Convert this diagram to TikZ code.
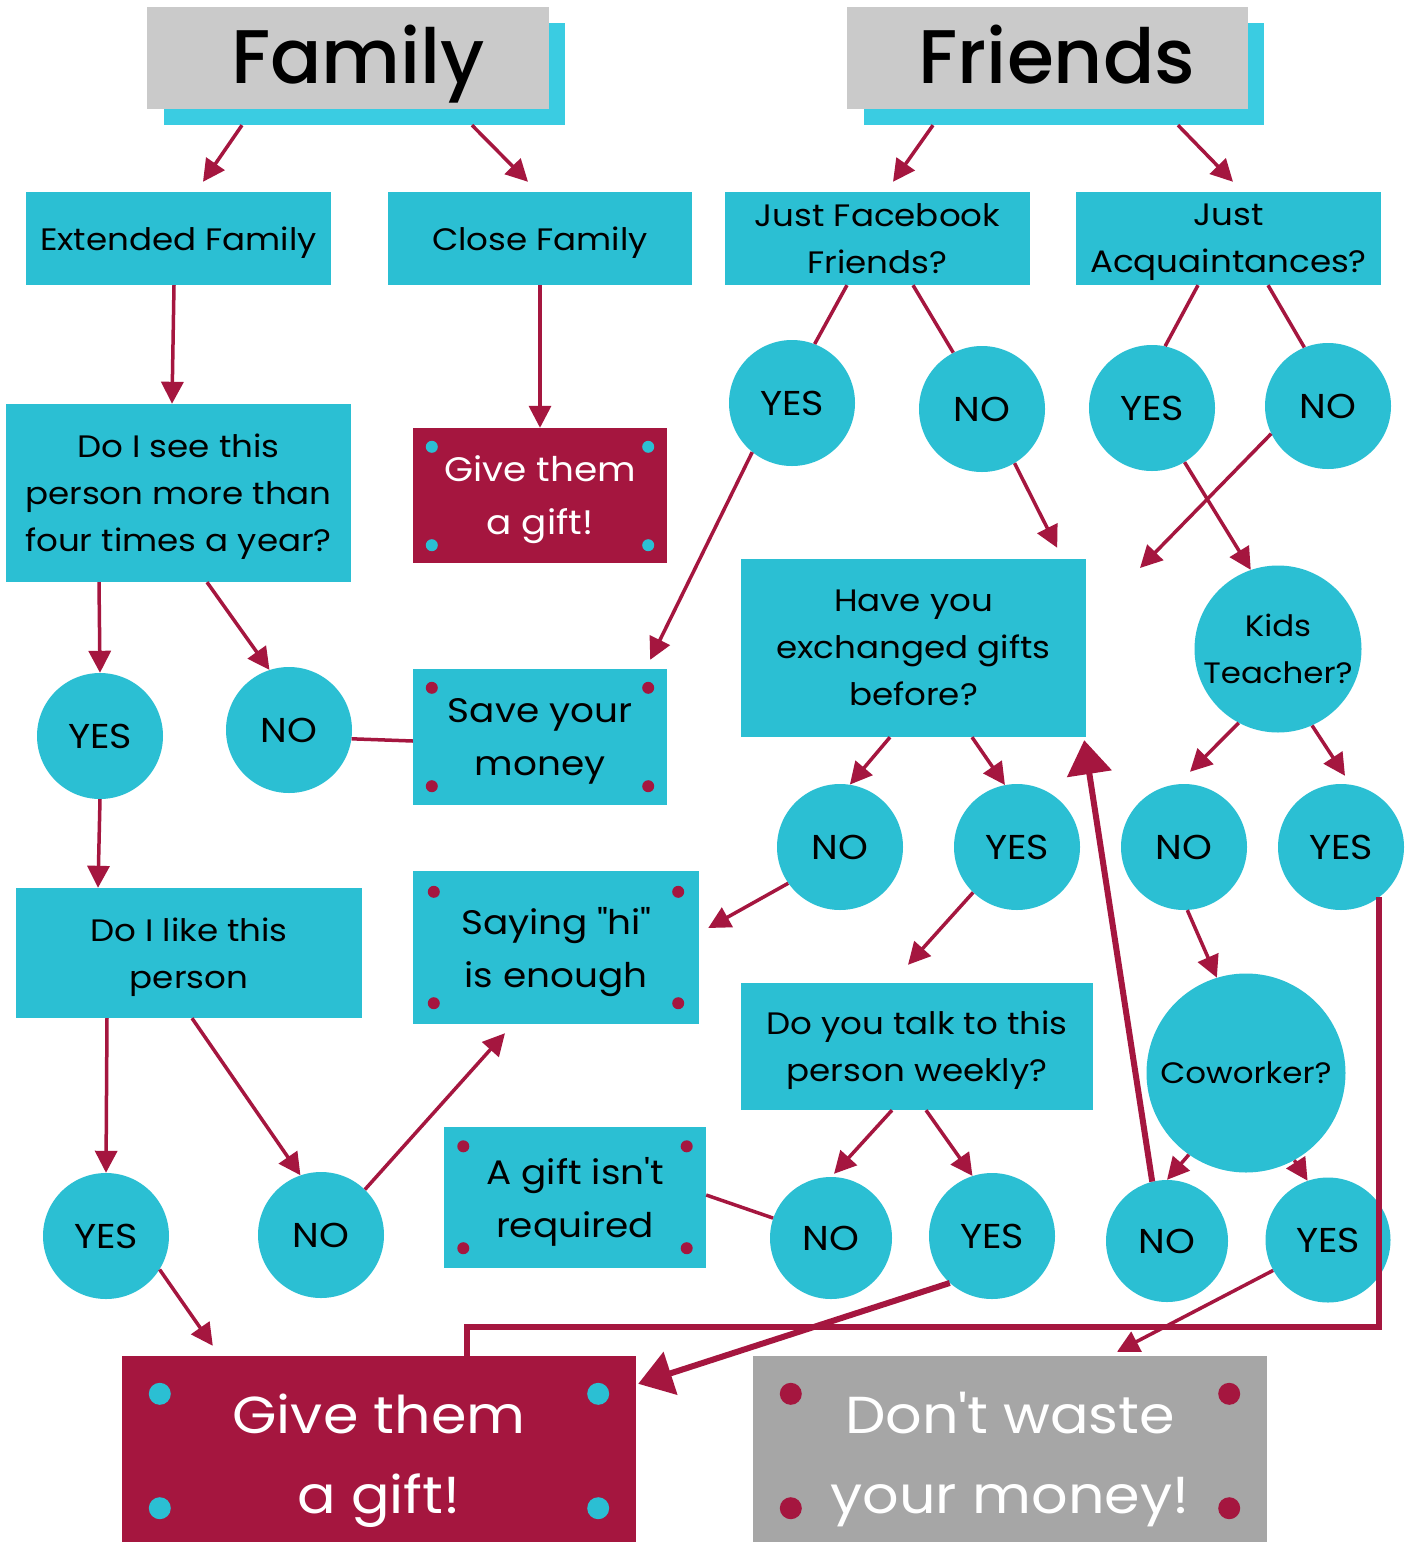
\documentclass[tikz,border=0pt]{standalone}
\usepackage{fontspec}
\setmainfont{Poppins}[FakeStretch=1.1]
\newfontfamily\hdrfont{Poppins Medium}
\usetikzlibrary{arrows.meta,shapes.geometric,calc}
\definecolor{cy}{HTML}{2BBFD3}
\definecolor{cyl}{HTML}{3ACCE2}
\definecolor{rd}{HTML}{A5163F}
\definecolor{gh}{HTML}{CACACA}
\definecolor{gd}{HTML}{A6A6A6}
\newcommand\ftA{\fontsize{31}{47}\selectfont}
\newcommand\ftK{\fontsize{29.5}{47}\selectfont}
\newcommand\ftB{\fontsize{34}{53}\selectfont}
\newcommand\ftY{\fontsize{34.5}{47}\selectfont}
\newcommand\ftC{\fontsize{52}{80}\selectfont}
\newcommand\ftH{\hdrfont\fontsize{76}{80}\selectfont}
\newcommand\bigstrut{\rule{0pt}{49pt}}
\newcommand\fourdots[5]{%
 \fill[#5] ([xshift=#2,yshift=-#2]#1.north west) circle (#4);
 \fill[#5] ([xshift=-#2,yshift=-#2]#1.north east) circle (#4);
 \fill[#5] ([xshift=#2,yshift=#3]#1.south west) circle (#4);
 \fill[#5] ([xshift=-#2,yshift=#3]#1.south east) circle (#4);}
\begin{document}
\begin{tikzpicture}[x=1pt,y=-1pt,
 bx/.style={rectangle, fill=cy, inner sep=0pt, align=center, font=\ftA, text depth=0pt},
 bxb/.style={rectangle, fill=cy, inner sep=0pt, align=center, font=\ftB, text depth=0pt},
 big/.style={rectangle, inner sep=0pt, align=center, font=\ftC, text=white, text depth=0pt, minimum width=514pt, minimum height=186pt},
 circ/.style={circle, fill=cy, minimum size=126pt, inner sep=0pt, align=center, font=\ftY},
 arr/.style={draw=rd, line width=3.5pt, -{Triangle[length=22pt,width=22pt]}},
 ln/.style={draw=rd, line width=3.5pt},
 bigarr/.style={draw=rd, line width=6pt, -{Triangle[length=34pt,width=44pt]}},
 thk/.style={draw=rd, line width=6pt}]
\useasboundingbox (0,0) rectangle (1413,1542);
\fill[white] (0,0) rectangle (1413,1542);
% headers
\node[fill=cyl, minimum width=401pt, minimum height=102pt, inner sep=0] (famsh) at (364.5,74) {};
\node[fill=gh, minimum width=402pt, minimum height=102pt, inner sep=0] (fam) at (348,58) {};
\node[font=\ftH, inner sep=0, anchor=base] (famt) at (358,83) {Family};
\node[fill=cyl, minimum width=400pt, minimum height=102pt, inner sep=0] (frish) at (1064,74) {};
\node[fill=gh, minimum width=401pt, minimum height=102pt, inner sep=0] (fri) at (1047.5,58) {};
\node[font=\ftH, inner sep=0, anchor=base] (frit) at (1057,83) {Friends};
% boxes
\node[bx, minimum width=305pt, minimum height=93pt] (ext) at (178.5,238.5) {Extended Family};
\node[bx, minimum width=304pt, minimum height=93pt] (close) at (540,238.5) {Close Family};
\node[bx, minimum width=305pt, minimum height=93pt] (jff) at (877.5,238.5) {Just Facebook\\ Friends?};
\node[bx, minimum width=305pt, minimum height=93pt] (ja) at (1228.5,238.5) {Just\\ Acquaintances?};
\node[bx, minimum width=345pt, minimum height=178pt] (q1) at (178.5,493) {Do I see this\\ person more than\\ four times a year?};
\node[bxb, fill=rd, text=white, minimum width=254pt, minimum height=135pt] (gift1) at (540,495.5) {Give them\\ a gift!};
\node[bxb, minimum width=254pt, minimum height=136pt] (save) at (540,737) {Save your\\ money};
\node[bx, minimum width=346pt, minimum height=130pt] (q2) at (189,953) {Do I like this\\ person};
\node[bxb, minimum width=286pt, minimum height=153pt] (hi) at (556,947.5) {Saying \textquotedbl hi\textquotedbl\\ is enough};
\node[bxb, minimum width=262pt, minimum height=141pt] (gift3) at (575,1197.5) {A gift isn\textquotesingle t\\ required};
\node[bx, minimum width=345pt, minimum height=178pt] (q3) at (913.5,648) {Have you\\ exchanged gifts\\ before?};
\node[bx, minimum width=352pt, minimum height=127pt] (q4) at (917,1046.5) {Do you talk to this\\ person weekly?};
\node[big, fill=rd] (gift2) at (379,1449) {\bigstrut Give them\\ a gift!};
\node[big, fill=gd] (dont) at (1010,1449) {\bigstrut Don\textquotesingle t waste\\ your money!};
\fourdots{gift1}{19pt}{18pt}{6pt}{cy}
\fourdots{save}{19pt}{19pt}{6pt}{rd}
\fourdots{hi}{21pt}{21pt}{6pt}{rd}
\fourdots{gift3}{19.5pt}{20pt}{6pt}{rd}
\fourdots{gift2}{38pt}{34pt}{11pt}{cy}
\fourdots{dont}{38pt}{34pt}{11pt}{rd}
% circles
\node[circ] (y1) at (100,736) {YES};
\node[circ] (n1) at (289,730) {NO};
\node[circ] (y2) at (106,1236) {YES};
\node[circ] (n2) at (321,1235) {NO};
\node[circ] (jffY) at (792,403) {YES};
\node[circ] (jffN) at (982,409) {NO};
\node[circ] (jaY) at (1152,408) {YES};
\node[circ] (jaN) at (1328,406) {NO};
\node[circ, font=\ftK, minimum size=167pt] (kids) at (1278,649) {Kids\\ Teacher?};
\node[circ] (kN) at (1184,847) {NO};
\node[circ] (kY) at (1341,847) {YES};
\node[circ, font=\ftK, minimum size=199pt] (cow) at (1246,1073) {Coworker?};
\node[circ, minimum size=122pt] (cN) at (1167,1241) {NO};
\node[circ, minimum size=125pt] (cY) at (1328,1240) {YES};
\node[circ] (eN) at (840,847) {NO};
\node[circ] (eY) at (1017,847) {YES};
\node[circ, minimum size=122pt] (tN) at (831,1238) {NO};
\node[circ] (tY) at (992,1236) {YES};
\coordinate (freeend) at (1140,568);
% connectors
\draw[arr] ([xshift=-122.5pt]famsh.south) -- ([xshift=24.5pt,yshift=10pt]ext.north);
\draw[arr] ([xshift=107.5pt]famsh.south) -- ([xshift=-12pt,yshift=10pt]close.north);
\draw[arr] ([xshift=-131pt]frish.south) -- ([xshift=15.5pt,yshift=10pt]jff.north);
\draw[arr] ([xshift=114pt]frish.south) -- ([xshift=4.5pt,yshift=10pt]ja.north);
\draw[arr] ([xshift=-4.5pt]ext.south) -- ([xshift=-6.5pt]q1.north);
\draw[arr] (close.south) -- (gift1.north);
\draw[arr] ([xshift=-79.5pt]q1.south) -- (y1.north);
\draw[arr] ([xshift=28.5pt]q1.south) -- (n1.108);
\draw[ln] (n1.-8) -- ([yshift=-4pt]save.west);
\draw[arr] (jffY.231) -- ([xshift=-17pt,yshift=9pt]save.north east);
\draw[arr] (y1.south) -- ([xshift=-91pt]q2.north);
\draw[arr] ([xshift=-82pt]q2.south) -- (y2.north);
\draw[arr] ([xshift=3pt]q2.south) -- (n2.109);
\draw[arr] (n2.46) -- ([xshift=-51pt,yshift=-9pt]hi.south);
\draw[arr] (y2.-32) -- ([xshift=91pt,yshift=10pt]gift2.north west);
\draw[ln] ([xshift=-30.5pt]jff.south) -- (jffY.69);
\draw[ln] ([xshift=35.5pt]jff.south) -- (jffN.117);
\draw[arr] (jffN.-59) -- ([xshift=-29pt,yshift=11pt]q3.north east);
\draw[ln] ([xshift=-30.5pt]ja.south) -- (jaY.78);
\draw[ln] ([xshift=39.5pt]ja.south) -- (jaN.112);
\draw[arr] (jaY.-59) -- (kids.109);
\draw[arr] (jaN.206) -- (freeend);
\draw[arr] (kids.242) -- ([xshift=6pt,yshift=12pt]kN.north);
\draw[arr] (kids.-66) -- ([xshift=4pt,yshift=8pt]kY.north);
\draw[arr] (kN.-87) -- (cow.107);
\draw[arr] (cow.235) -- (cN.north);
\draw[arr] (cow.-61) -- (cY.109);
\draw[bigarr] (cN.104) -- ([xshift=-2pt,yshift=-3pt]q3.south east);
\draw[thk] (kY.-53) -- ++(0,430) -| ([xshift=88pt]gift2.north);
\draw[arr] (cY.209) -- ([xshift=107pt,yshift=4pt]dont.north);
\draw[arr] ([xshift=-23.5pt]q3.south) -- (eN.81);
\draw[arr] ([xshift=58.5pt]q3.south) -- (eY.101);
\draw[arr] (eN.215) -- ([xshift=9pt,yshift=19.5pt]hi.east);
\draw[arr] (eY.226) -- ([xshift=-9pt,yshift=18pt]q4.north);
\draw[arr] ([xshift=-25pt]q4.south) -- ([xshift=3pt,yshift=3pt]tN.north);
\draw[arr] ([xshift=9pt]q4.south) -- (tY.108);
\draw[ln] (tN.161) -- ([yshift=2.5pt]gift3.east);
\draw[bigarr] (tY.228) -- ([xshift=2pt,yshift=-28pt]gift2.north east);
\end{tikzpicture}
\end{document}
